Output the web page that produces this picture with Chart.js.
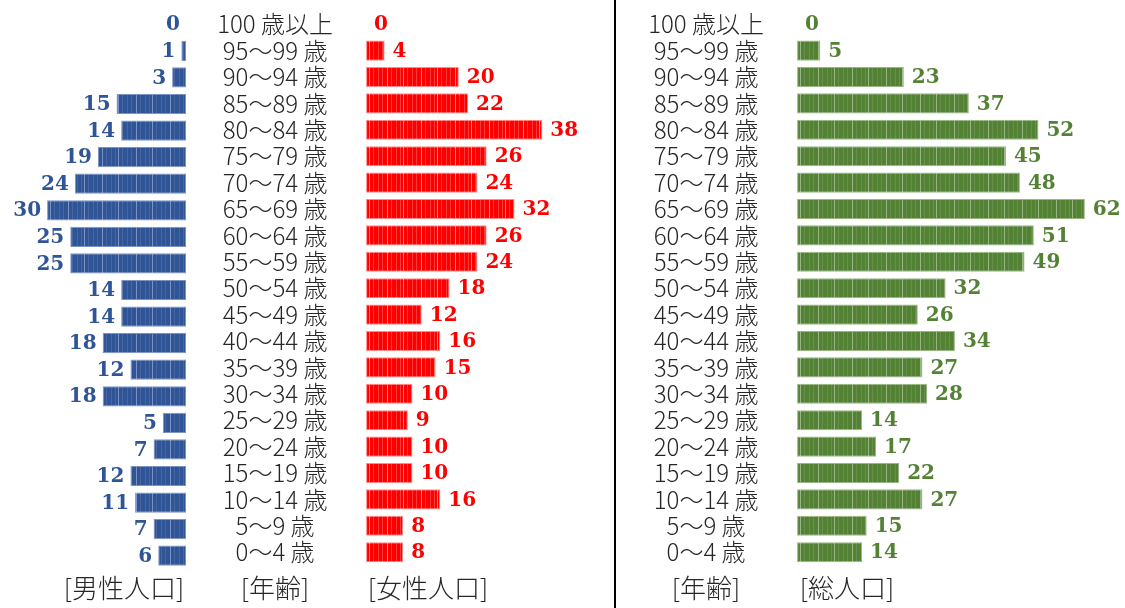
<!DOCTYPE html>
<html lang="ja">
<head>
<meta charset="UTF-8">
<title>人口ピラミッド</title>
<script src="https://cdn.jsdelivr.net/npm/chart.js"></script>
<style>
  body { margin: 0; width: 1125px; height: 608px; background: #fff; position: relative; overflow: hidden;
         font-family: "Noto Sans CJK JP", sans-serif; }
  canvas { position: absolute; top: 0; }
  .foot { position: absolute; top: 571px; font-size: 26px; line-height: 32px; color: #262626; font-weight: 300;
          transform: translateX(-50%); white-space: nowrap; }
  #divider { position: absolute; left: 614px; top: 0; width: 2px; height: 608px; background: #000; }
</style>
</head>
<body>
<canvas id="maleChart"></canvas>
<canvas id="femaleChart"></canvas>
<canvas id="totalChart"></canvas>
<div id="divider"></div>
<div class="foot" style="left:124px">[男性人口]</div>
<div class="foot" style="left:275px">[年齢]</div>
<div class="foot" style="left:428px">[女性人口]</div>
<div class="foot" style="left:706px">[年齢]</div>
<div class="foot" style="left:847px">[総人口]</div>

<script>
// data, top row = oldest group
var ageLabels = ['100 歳以上', '95～99 歳', '90～94 歳', '85～89 歳', '80～84 歳', '75～79 歳', '70～74 歳',
                 '65～69 歳', '60～64 歳', '55～59 歳', '50～54 歳', '45～49 歳', '40～44 歳', '35～39 歳',
                 '30～34 歳', '25～29 歳', '20～24 歳', '15～19 歳', '10～14 歳', '5～9 歳', '0～4 歳'];
var male   = [0, 1, 3, 15, 14, 19, 24, 30, 25, 25, 14, 14, 18, 12, 18, 5, 7, 12, 11, 7, 6];
var female = [0, 4, 20, 22, 38, 26, 24, 32, 26, 24, 18, 12, 16, 15, 10, 9, 10, 10, 16, 8, 8];
var total  = [0, 5, 23, 37, 52, 45, 48, 62, 51, 49, 32, 26, 34, 27, 28, 14, 17, 22, 27, 15, 14];

var PX = 4.63;          // pixels per person, same for all three charts
var GAP = 91;           // distance from age label centre to bar base
var CH = 575;           // canvas height
var ageFont = { family: '"Noto Sans CJK JP", sans-serif', size: 24, weight: '300', lineHeight: 0.8 };

// widest age label, so the centred tick labels can be placed in the column middle
var mctx = document.createElement('canvas').getContext('2d');
mctx.font = '300 24px "Noto Sans CJK JP", sans-serif';
var widest = Math.ceil(Math.max.apply(null, ageLabels.map(function (s) { return mctx.measureText(s).width; })));
var shift = GAP - widest / 2;   // empty space between axis and zero line

// solid fill with faint vertical lines, like the original bars
function stripes(base, faint, bright) {
    var c = document.createElement('canvas');
    c.width = 34; c.height = 4;
    var g = c.getContext('2d');
    g.fillStyle = base;
    g.fillRect(0, 0, c.width, c.height);
    g.fillStyle = faint;
    [4, 9, 13, 20, 25, 29].forEach(function (x) { g.fillRect(x, 0, 1, c.height); });
    g.fillStyle = bright;
    g.fillRect(16, 0, 1, c.height);
    g.fillRect(0, 0, 1, c.height);
    return g.createPattern(c, 'repeat');
}

// bold number next to each bar end
var valueLabels = {
    id: 'valueLabels',
    afterDatasetsDraw: function (chart, args, opts) {
        var ctx = chart.ctx;
        var meta = chart.getDatasetMeta(0);
        var data = chart.data.datasets[0].data;
        ctx.save();
        ctx.font = 'bold 20px "DejaVu Serif", serif';
        ctx.fillStyle = opts.color;
        ctx.textBaseline = 'middle';
        ctx.textAlign = opts.side === 'left' ? 'right' : 'left';
        meta.data.forEach(function (bar, i) {
            var x = opts.side === 'left' ? bar.x - opts.gap : bar.x + opts.gap;
            ctx.fillText(String(data[i]), x, bar.y + 1);
        });
        ctx.restore();
    }
};

// zeroX: page x of the bar base, xMax: top of value scale
function makeChart(id, zeroX, values, colors, side, xMax) {
    var withAges = side === 'right';
    var cv = document.getElementById(id);
    var left, width, xMin;
    if (withAges) {
        left = zeroX - GAP - widest / 2;
        xMin = -shift / PX;
        width = Math.ceil(widest + shift + xMax * PX) + 3;
    } else {
        left = 0;
        xMin = 0;
        width = zeroX;
        xMax = zeroX / PX;
    }
    cv.width = width; cv.height = CH;
    cv.style.left = left + 'px';
    return new Chart(cv, {
        type: 'bar',
        data: {
            labels: ageLabels,
            datasets: [{
                data: values,
                backgroundColor: stripes(colors[0], colors[1], colors[2]),
                borderColor: colors[2],
                borderWidth: 1,
                borderSkipped: false,
                barPercentage: 0.76,
                categoryPercentage: 1
            }]
        },
        options: {
            indexAxis: 'y',
            responsive: false,
            animation: false,
            layout: { padding: { top: 11, bottom: 6, left: 0, right: withAges ? 3 : 0 } },
            plugins: {
                legend: { display: false },
                tooltip: { enabled: false },
                valueLabels: { color: colors[0], side: withAges ? 'right' : 'left', gap: withAges ? 8 : 6 }
            },
            scales: {
                x: { display: false, min: xMin, max: xMax, reverse: !withAges },
                y: {
                    display: withAges,
                    grid: { display: false, drawTicks: false },
                    border: { display: false },
                    ticks: {
                        autoSkip: false,
                        font: ageFont,
                        color: '#262626',
                        crossAlign: 'center',
                        padding: 0
                    },
                    afterFit: function (scale) { if (withAges) scale.width = widest; }
                }
            }
        },
        plugins: [valueLabels]
    });
}

makeChart('maleChart', 186, male, ['#2F5597', '#4766a3', '#7b93c4'], 'left');
makeChart('femaleChart', 366, female, ['#FF0000', '#ff3a3a', '#ff8a8a'], 'right', 50);
makeChart('totalChart', 797, total, ['#548235', '#688f4c', '#98b683'], 'right', 70);
</script>
</body>
</html>
